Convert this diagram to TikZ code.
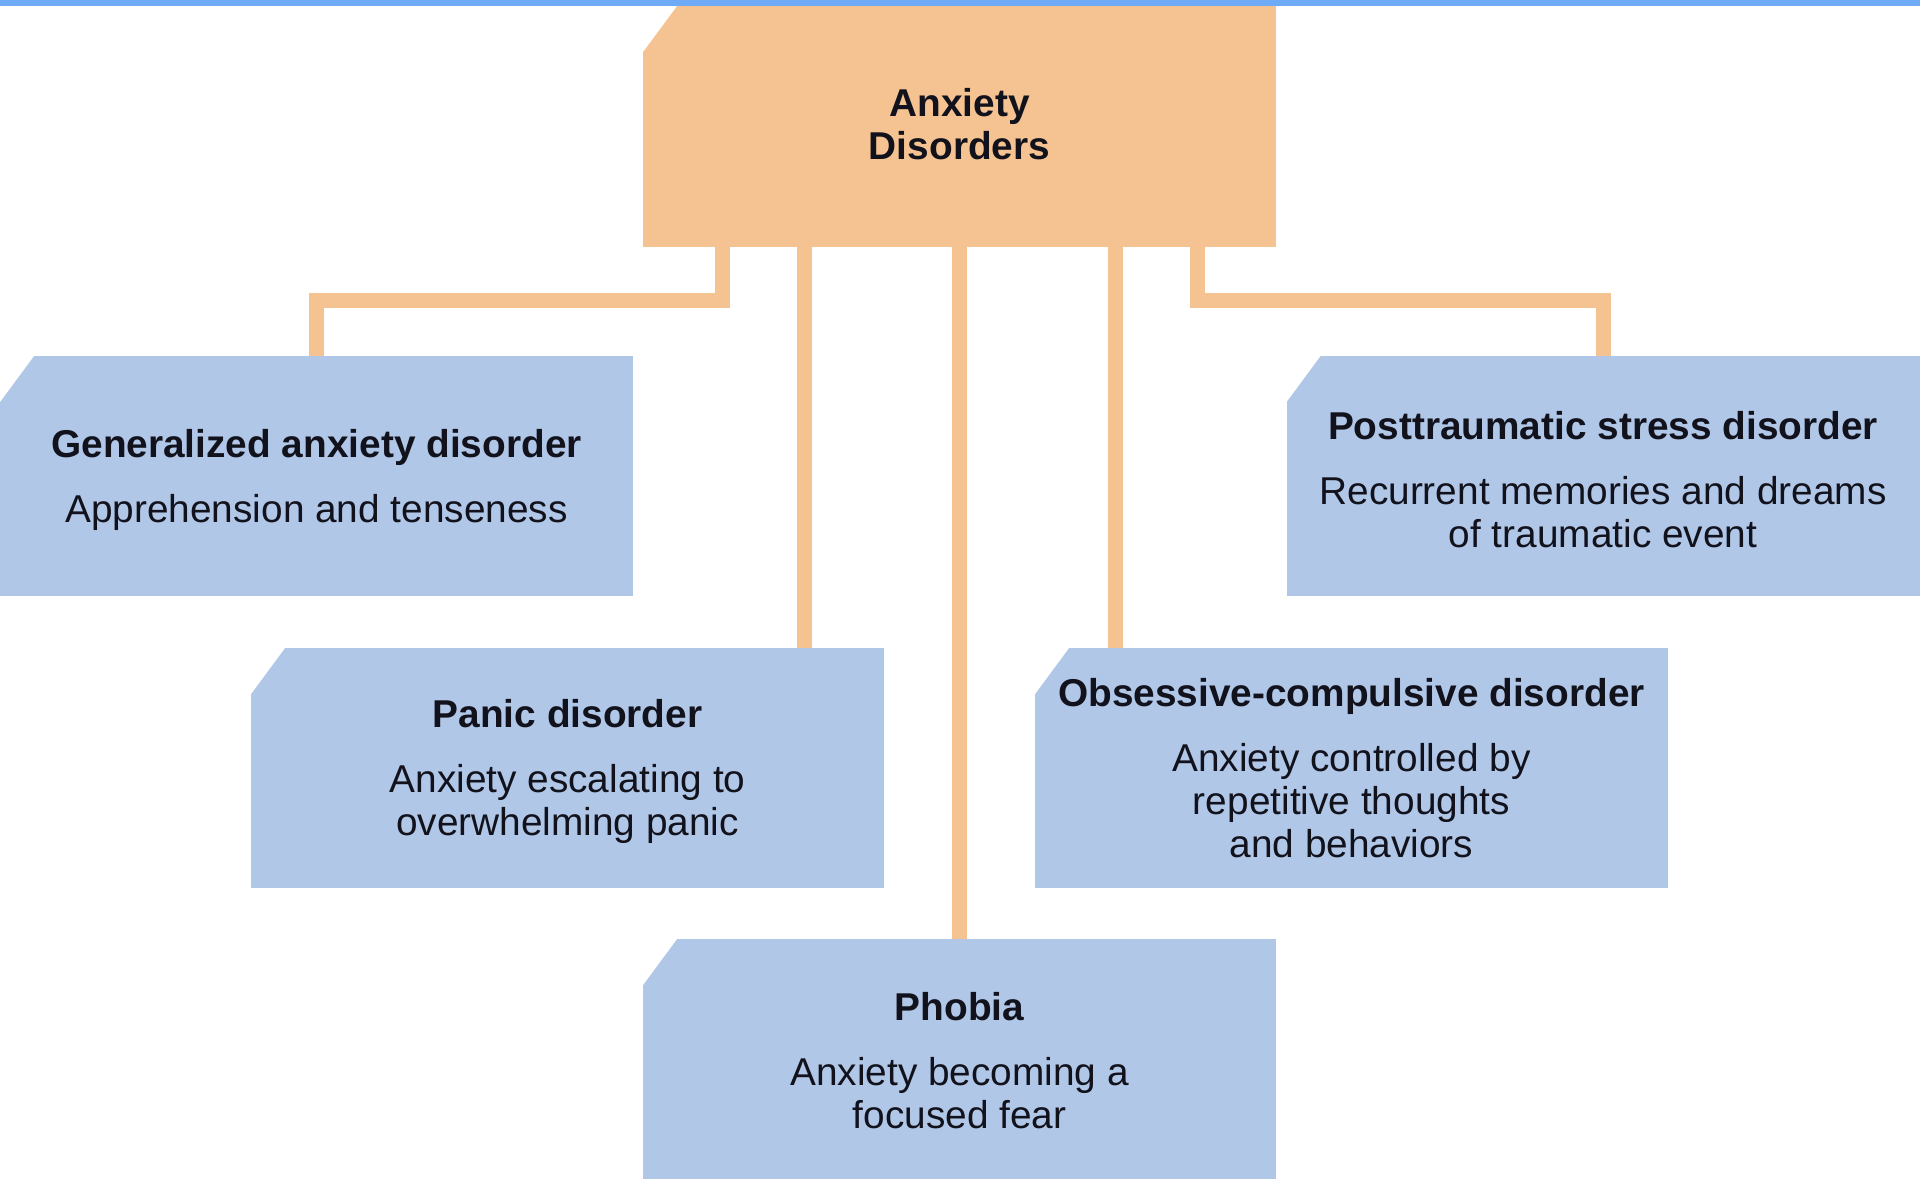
\documentclass[tikz,border=0pt]{standalone}
\usepackage{fontspec}
\setmainfont{Liberation Sans}
\definecolor{orangebox}{RGB}{245,194,146}
\definecolor{bluebox}{RGB}{177,199,232}
\definecolor{topbar}{RGB}{110,170,246}
\definecolor{txt}{RGB}{18,18,28}
\newcommand{\upstrut}{\rule{0pt}{17.8pt}}
\newcommand{\halfstrut}{\rule{0pt}{15.8pt}}
\begin{document}
\begin{tikzpicture}[x=0.5pt,y=-0.5pt,
  basebox/.style={rectangle, minimum width=316.5pt, minimum height=120pt, inner sep=0pt,
    align=center, text=txt, font=\fontsize{19.4}{21.5}\selectfont,
    path picture={\fill[white] (path picture bounding box.north west) -- ++(17pt,0pt) -- ++(-17pt,-23pt) -- cycle;}},
  bluenode/.style={basebox, fill=bluebox},
  rootnode/.style={basebox, fill=orangebox, minimum height=120.5pt},
  conn/.style={draw=orangebox, line width=7.5pt, line join=miter}]
\fill[white] (0,0) rectangle (1920,1179);
\useasboundingbox (0,0) rectangle (1920,1179);
\fill[topbar] (0,0) rectangle (1920,6);

\node[rootnode] (top) at (959.5,126.5) {\textbf{Anxiety}\\\textbf{Disorders}\rule[-2.6pt]{0pt}{0pt}};
\node[bluenode] (gad) at (316.5,476) {\upstrut\textbf{Generalized anxiety disorder}\\[11pt]Apprehension and tenseness};
\node[bluenode] (ptsd) at (1603,476) {\upstrut\textbf{Posttraumatic stress disorder}\\[11pt]Recurrent memories and dreams\\of traumatic event};
\node[bluenode] (panic) at (567.5,768) {\upstrut\textbf{Panic disorder}\\[11pt]Anxiety escalating to\\overwhelming panic};
\node[bluenode] (ocd) at (1351.5,768) {\textbf{Obsessive-compulsive disorder}\\[11pt]Anxiety controlled by\\repetitive thoughts\\and behaviors};
\node[bluenode] (phobia) at (959.5,1059) {\halfstrut\textbf{Phobia}\\[11pt]Anxiety becoming a\\focused fear};

\coordinate (c1) at (722,300);
\coordinate (c2) at (804,300);
\coordinate (c4) at (1115,300);
\coordinate (c5) at (1197,300);

\draw[conn] (top.south -| c1) -- (c1) -| (gad.north);
\draw[conn] (top.south -| c2) -- (panic.north -| c2);
\draw[conn] (top.south) -- (phobia.north);
\draw[conn] (top.south -| c4) -- (ocd.north -| c4);
\draw[conn] (top.south -| c5) -- (c5) -| (ptsd.north);
\end{tikzpicture}
\end{document}
